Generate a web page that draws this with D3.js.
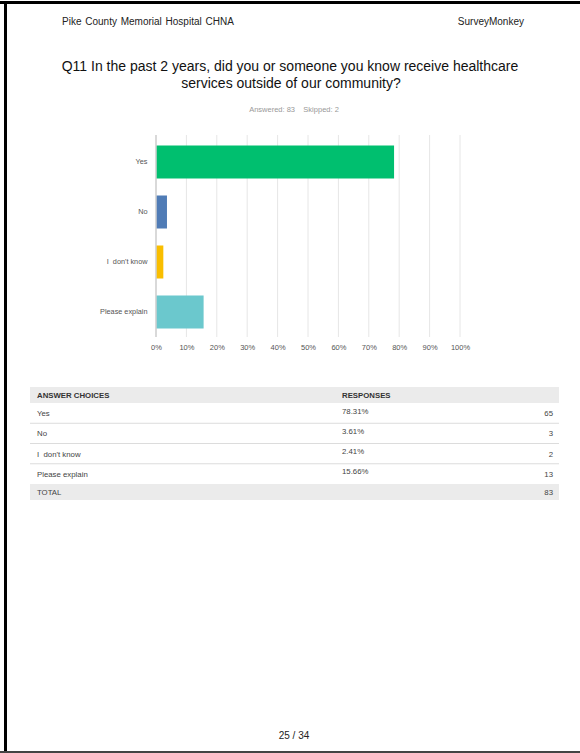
<!DOCTYPE html>
<html>
<head>
<meta charset="utf-8">
<script src="https://cdn.jsdelivr.net/npm/d3@7"></script>
<style>
  html, body { margin: 0; padding: 0; background: #fff; }
  svg { display: block; font-family: "Liberation Sans", Arial, sans-serif; }
</style>
</head>
<body>
<svg id="page" width="580" height="753"></svg>
<script>
// Survey question Q11 — responses
const categories = ["Yes", "No", "I  don't know", "Please explain"];
const percents = [78.31, 3.61, 2.41, 15.66];
const counts = [65, 3, 2, 13];
const totalCount = 83;
const barColors = ["#00bf6f", "#507cb6", "#f9be00", "#6bc8cd"];
const xTicks = [0, 10, 20, 30, 40, 50, 60, 70, 80, 90, 100];

const svg = d3.select("#page");

// page frame
svg.append("rect").attr("x", 0).attr("y", 1).attr("width", 580).attr("height", 3).attr("fill", "#000");
svg.append("rect").attr("x", 4).attr("y", 1).attr("width", 3).attr("height", 752).attr("fill", "#000");
svg.append("rect").attr("x", 0).attr("y", 751).attr("width", 580).attr("height", 2).attr("fill", "#444");

// running header
svg.append("text").attr("x", 62).attr("y", 25).attr("font-size", 10).attr("word-spacing", 1).attr("fill", "#222")
  .text("Pike County Memorial Hospital CHNA");
svg.append("text").attr("x", 524).attr("y", 25).attr("font-size", 10).attr("fill", "#222")
  .attr("text-anchor", "end").text("SurveyMonkey");

// question title
const title = svg.append("text").attr("text-anchor", "middle").attr("font-size", 14).attr("fill", "#111");
title.append("tspan").attr("x", 290).attr("y", 71)
  .text("Q11 In the past 2 years, did you or someone you know receive healthcare");
title.append("tspan").attr("x", 291).attr("y", 88)
  .text("services outside of our community?");

svg.append("text").attr("x", 294).attr("y", 112).attr("text-anchor", "middle")
  .attr("font-size", 7.5).attr("fill", "#999")
  .text("Answered: 83    Skipped: 2").attr("xml:space", "preserve");

// bar chart
const x = d3.scaleLinear().domain([0, 100]).range([156, 460]);
const y = d3.scaleBand().domain(categories).range([137, 337]).paddingInner(0.34).paddingOuter(0.17);

const chart = svg.append("g");

chart.append("g").selectAll("line").data(xTicks).join("line")
  .attr("x1", d => x(d)).attr("x2", d => x(d))
  .attr("y1", 135).attr("y2", 337)
  .attr("stroke", "#e6e6e6").attr("stroke-width", 1);

chart.append("g").selectAll("rect").data(categories).join("rect")
  .attr("x", x(0))
  .attr("y", d => y(d))
  .attr("width", (d, i) => x(percents[i]) - x(0))
  .attr("height", y.bandwidth())
  .attr("fill", (d, i) => barColors[i]);

// baseline
chart.append("line").attr("x1", x(0)).attr("x2", x(0)).attr("y1", 135).attr("y2", 337)
  .attr("stroke", "#d0d0d0").attr("stroke-width", 1.5);

const yAxis = d3.axisLeft(y).tickSize(0).tickPadding(8.5);
const yg = chart.append("g").attr("transform", `translate(${x(0)},0)`).call(yAxis);
yg.select(".domain").remove();
yg.selectAll("text").attr("font-size", 7.3).attr("fill", "#555")
  .attr("font-family", "Liberation Sans, Arial, sans-serif").attr("xml:space", "preserve");

const xAxis = d3.axisBottom(x).tickValues(xTicks).tickFormat(d => d + "%").tickSize(0).tickPadding(7);
const xg = chart.append("g").attr("transform", "translate(0,338)").call(xAxis);
xg.select(".domain").remove();
xg.selectAll("text").attr("font-size", 7.5).attr("fill", "#555")
  .attr("font-family", "Liberation Sans, Arial, sans-serif");

// response table
const tbl = svg.append("g").attr("font-size", 7.8).attr("fill", "#444");
const tLeft = 30, tRight = 559;
const rowY = d3.scaleBand().domain(categories).range([403, 484]);

tbl.append("rect").attr("x", tLeft).attr("y", 387).attr("width", tRight - tLeft).attr("height", 16).attr("fill", "#ebebeb");
tbl.append("text").attr("x", 37).attr("y", 398).attr("font-weight", "bold").attr("fill", "#333")
  .text("ANSWER CHOICES");
tbl.append("text").attr("x", 342).attr("y", 398).attr("font-weight", "bold").attr("fill", "#333")
  .text("RESPONSES");

const rows = tbl.append("g").selectAll("g").data(categories).join("g")
  .attr("transform", d => `translate(0,${rowY(d)})`);
rows.append("text").attr("x", 37).attr("y", 13).attr("xml:space", "preserve").text(d => d);
rows.append("text").attr("x", 342).attr("y", 10.5).text((d, i) => percents[i].toFixed(2) + "%");
rows.append("text").attr("x", 553).attr("y", 13).attr("text-anchor", "end").text((d, i) => counts[i]);
rows.filter((d, i) => i < categories.length - 1).append("line")
  .attr("x1", tLeft).attr("x2", tRight)
  .attr("y1", rowY.bandwidth()).attr("y2", rowY.bandwidth())
  .attr("stroke", "#dcdcdc").attr("stroke-width", 1);

tbl.append("rect").attr("x", tLeft).attr("y", 484).attr("width", tRight - tLeft).attr("height", 16).attr("fill", "#ebebeb");
tbl.append("text").attr("x", 37).attr("y", 495).text("TOTAL");
tbl.append("text").attr("x", 553).attr("y", 495).attr("text-anchor", "end").text(totalCount);

// page number
svg.append("text").attr("x", 294).attr("y", 739).attr("text-anchor", "middle")
  .attr("font-size", 10).attr("fill", "#222").text("25 / 34");
</script>
</body>
</html>
